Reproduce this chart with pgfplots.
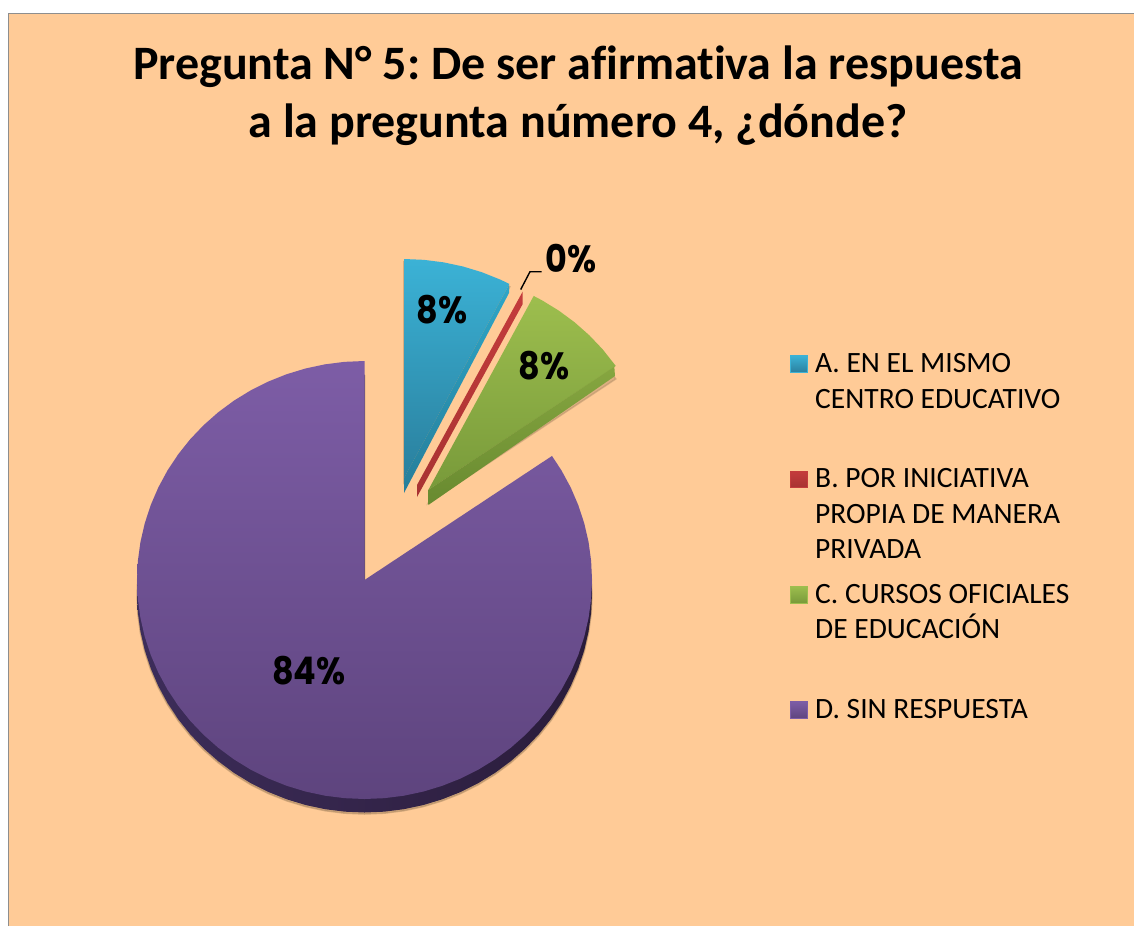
\documentclass[border=0pt]{standalone}
\usepackage{fontspec}
\usepackage{pgfplots}
\usepackage{pgfplotstable}
\pgfplotsset{compat=1.18}
\setmainfont{Carlito}[Ligatures=NoCommon]
\newfontfamily\labfont{Poppins}[FakeStretch=0.88]
\frenchspacing

\definecolor{bgorange}{HTML}{FFCB97}
\definecolor{frameline}{HTML}{8E8E8E}
\definecolor{shadowtan}{HTML}{A88660}
\definecolor{A1}{HTML}{3BB2D6}
\definecolor{A2}{HTML}{2A809E}
\definecolor{A3}{HTML}{2EA6C8}
\definecolor{A4}{HTML}{267E9A}
\definecolor{B1}{HTML}{C43C3C}
\definecolor{B2}{HTML}{A83232}
\definecolor{C1}{HTML}{9DBE4E}
\definecolor{C2}{HTML}{789A3A}
\definecolor{C3}{HTML}{86A640}
\definecolor{C4}{HTML}{688A30}
\definecolor{D1}{HTML}{7D5DA6}
\definecolor{D2}{HTML}{5E447E}
\definecolor{D3}{HTML}{3D2D5A}
\definecolor{D4}{HTML}{2A1C3A}

% slices: angle in degrees, radius share (0 = apex)
\pgfplotstableread{
a r
0 0
90 1
95 1
100 1
105 1
110 1
115 1
120 1
125 1
130 1
135 1
140 1
145 1
150 1
155 1
160 1
165 1
170 1
175 1
180 1
185 1
190 1
195 1
200 1
205 1
210 1
215 1
220 1
225 1
230 1
235 1
240 1
245 1
250 1
255 1
260 1
265 1
270 1
275 1
280 1
285 1
290 1
295 1
300 1
305 1
310 1
315 1
320 1
325 1
330 1
335 1
340 1
345 1
350 1
355 1
360 1
365 1
370 1
375 1
380 1
385 1
390 1
394.5 1
}\sliceD
\pgfplotstableread{
a r
0 0
90 1
85 1
80 1
75 1
70 1
65 1
62.4 1
}\sliceA
\pgfplotstableread{
a r
0 0
62.4 1
60 1
55 1
50 1
45 1
40 1
34.5 1
}\sliceC

% side faces in picture pixels
\pgfplotstableread{
x y
404 478
509 285
509 293
404 493
}\sideA
\pgfplotstableread{
x y
417 485
522.7 291.5
522.7 304
417 497
}\sideB
\pgfplotstableread{
x y
428.3 490
614.3 366.7
615 376
428.3 505
}\sideC

\newcommand{\sector}[5]{%
  \addplot[forget plot,#5] table[
    x expr={#2+227.5*\thisrow{r}*cos(\thisrow{a})},
    y expr={#3+#4-219*\thisrow{r}*sin(\thisrow{a})}] {#1} -- cycle;
}
\newcommand{\key}[4]{%
  \addplot[forget plot,draw=#3,line width=1pt,top color=#3,bottom color=#4]
    coordinates {(790.5,#1)(807.5,#1)(807.5,#2)(790.5,#2)} -- cycle;
}

\begin{document}
\begin{tikzpicture}
\begin{axis}[
  scale only axis,
  width=1134pt, height=926pt,
  xmin=0, xmax=1134, ymin=0, ymax=926,
  y dir=reverse,
  hide axis,
  no markers,
]
% page and chart area
\addplot[forget plot,draw=none,fill=white] coordinates {(0,0)(1134,0)(1134,926)(0,926)} -- cycle;
\addplot[forget plot,draw=none,fill=bgorange] coordinates {(9,14)(1134,14)(1134,926)(9,926)} -- cycle;
\addplot[forget plot,frameline,line width=1.6pt] coordinates {(8.5,926)(8.5,13.5)(1134,13.5)};

% soft shadows
\sector{\sliceD}{364.5}{580}{15}{draw=shadowtan,fill=shadowtan,line width=1.5pt,opacity=0.5}
\sector{\sliceA}{404}{478}{3}{draw=shadowtan,fill=shadowtan,line width=2pt,opacity=0.45}
\sector{\sliceC}{428.3}{490}{13}{draw=shadowtan,fill=shadowtan,line width=1.5pt,opacity=0.4}

% D
\sector{\sliceD}{364.5}{580}{13.5}{draw=none,left color=D3,right color=D4}
\sector{\sliceD}{364.5}{580}{0}{draw=none,top color=D1,bottom color=D2}

% A
\sector{\sliceA}{404}{478}{0}{draw=none,top color=A1,bottom color=A2}
\addplot[forget plot,draw=none,top color=A3,bottom color=A4] table[x=x,y=y] {\sideA} -- cycle;

% B
\addplot[forget plot,draw=none,top color=B1,bottom color=B2] table[x=x,y=y] {\sideB} -- cycle;

% C
\sector{\sliceC}{428.3}{490}{0}{draw=none,top color=C1,bottom color=C2}
\addplot[forget plot,draw=none,top color=C3,bottom color=C4] table[x=x,y=y] {\sideC} -- cycle;

% leader line
\addplot[forget plot,black,line width=1.4pt] coordinates {(520.7,289.5)(530,271.7)(541.7,271.7)};

% data labels
\node[font=\labfont\bfseries\fontsize{38}{38}\selectfont,anchor=center] at (axis cs:442,310) {8\%};
\node[font=\labfont\bfseries\fontsize{38}{38}\selectfont,anchor=center] at (axis cs:544,366) {8\%};
\node[font=\labfont\bfseries\fontsize{38}{38}\selectfont,anchor=center] at (axis cs:571,259) {0\%};
\node[font=\labfont\bfseries\fontsize{38}{38}\selectfont,anchor=center] at (axis cs:309,671) {84\%};

% legend
\key{355.5}{372.5}{A1}{A2}
\key{471}{487.5}{B1}{B2}
\key{586}{603}{C1}{C2}
\key{701.5}{718.5}{D1}{D2}
\node[anchor=base west,inner sep=0pt,font=\fontsize{29.5}{29.5}\selectfont] at (axis cs:815,372.2) {A. EN EL MISMO};
\node[anchor=base west,inner sep=0pt,font=\fontsize{29.5}{29.5}\selectfont] at (axis cs:815,408.2) {CENTRO EDUCATIVO};
\node[anchor=base west,inner sep=0pt,font=\fontsize{29.5}{29.5}\selectfont] at (axis cs:815,487.8) {B. POR INICIATIVA};
\node[anchor=base west,inner sep=0pt,font=\fontsize{29.5}{29.5}\selectfont] at (axis cs:815,523.2) {PROPIA DE MANERA};
\node[anchor=base west,inner sep=0pt,font=\fontsize{29.5}{29.5}\selectfont] at (axis cs:815,558.8) {PRIVADA};
\node[anchor=base west,inner sep=0pt,font=\fontsize{29.5}{29.5}\selectfont] at (axis cs:815,603.8) {C. CURSOS OFICIALES};
\node[anchor=base west,inner sep=0pt,font=\fontsize{29.5}{29.5}\selectfont] at (axis cs:815,638.8) {DE EDUCACIÓN};
\node[anchor=base west,inner sep=0pt,font=\fontsize{29.5}{29.5}\selectfont] at (axis cs:815,718.2) {D. SIN RESPUESTA};

% title
\node[anchor=base,inner sep=0pt,font=\bfseries\fontsize{48}{48}\selectfont] at (axis cs:578,79.8) {Pregunta N° 5: De ser afirmativa la respuesta};
\node[anchor=base,inner sep=0pt,font=\bfseries\fontsize{48}{48}\selectfont] at (axis cs:578,137.8) {a la pregunta número 4, ¿dónde?};
\end{axis}
\end{tikzpicture}
\end{document}
